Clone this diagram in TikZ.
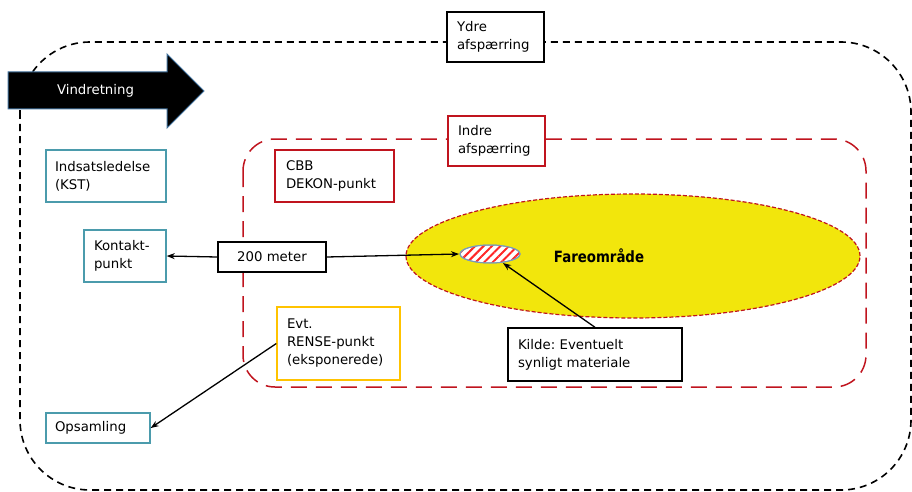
\documentclass[tikz,border=0pt]{standalone}
\usepackage{fontspec}
\setmainfont{DejaVu Sans}
\usetikzlibrary{patterns.meta,arrows.meta,shapes.geometric}
\definecolor{tealb}{RGB}{75,155,172}
\definecolor{redb}{RGB}{192,20,30}
\definecolor{yelb}{RGB}{255,195,0}
\definecolor{yelf}{RGB}{242,230,12}
\definecolor{arrb}{RGB}{65,113,156}
\frenchspacing
\begin{document}
\begin{tikzpicture}[x=1pt,y=-1pt,
  font=\fontsize{13.3}{18}\selectfont,
  bx/.style={draw, fill=white, line width=1.4pt, align=left, inner xsep=10pt, inner ysep=2pt},
  conn/.style={-{Stealth[length=8pt,width=6pt]}, line width=1.3pt}]
\useasboundingbox (0,0) rectangle (912,492);
% outer dashed boundary
\draw[line width=1.6pt, dash pattern=on 7pt off 5pt, rounded corners=70pt] (20,42) rectangle (911,490);
% inner red dashed boundary
\draw[redb, line width=1.5pt, dash pattern=on 16pt off 9pt, rounded corners=32pt] (243,139) rectangle (866,387);
% danger zone
\node[ellipse, minimum width=454pt, minimum height=124pt, fill=yelf, draw=redb, line width=1.2pt, dash pattern=on 4pt off 2pt, inner sep=0pt] (fare) at (633,256) {};
\node (faretxt) at (599,256) {\scalebox{0.86}[1]{\fontsize{15.5}{18}\selectfont\bfseries Fareområde}};
\node[ellipse, minimum width=60pt, minimum height=18pt, inner sep=0pt, draw=arrb!70, line width=1pt, preaction={fill=white},
  pattern={Lines[angle=45,distance=6pt,line width=2pt]}, pattern color=red!85!white] (hatch) at (490,254) {};
\draw[arrb!70, line width=1pt] (hatch.center) ellipse [x radius=30, y radius=9];
% wind arrow
\draw[fill=black, draw=arrb, line width=1pt] (8,72) -- (167,72) -- (167,54) -- (204,91) -- (167,128) -- (167,109) -- (8,109) -- cycle;
\node[text=white] (vind) at (95.5,91) {Vindretning};
% boxes
\node[bx, text width=77pt, minimum height=50pt] (ydre) at (495.5,37) {Ydre\\afspærring};
\node[bx, draw=redb, text width=77pt, minimum height=50pt] (indre) at (496.5,141) {Indre\\afspærring};
\node[bx, draw=tealb, minimum height=52pt, inner xsep=9pt, text width=102pt] (indsats) at (106,176) {Indsatsledelse\\(KST)};
\node[bx, draw=tealb, text width=62pt, minimum height=52pt] (kontakt) at (125,256) {Kontakt-\\punkt};
\node[bx, draw=redb, text width=97pt, minimum height=52pt, inner xsep=11pt] (cbb) at (334.5,176) {CBB\\DEKON-punkt};
\node[bx, line width=1.2pt, minimum width=108pt, minimum height=30pt, align=center] (m200) at (272,257) {200 meter};
\node[bx, draw=yelb, text width=103pt, minimum height=73pt] (rense) at (338.5,343.5) {Evt.\\RENSE-punkt\\(eksponerede)};
\node[bx, text width=154pt, minimum height=53pt] (kilde) at (595,354.5) {Kilde: Eventuelt\\synligt materiale};
\node[bx, draw=tealb, text width=86pt, minimum height=30pt, inner xsep=9pt] (opsam) at (98,428) {Opsamling};
% connectors
\draw[conn] (m200.west) -- (kontakt.east);
\draw[conn] (m200.east) -- (hatch.west);
\draw[conn] (kilde.north) -- (hatch);
\draw[conn] (rense.west) -- (opsam.east);
\end{tikzpicture}
\end{document}
